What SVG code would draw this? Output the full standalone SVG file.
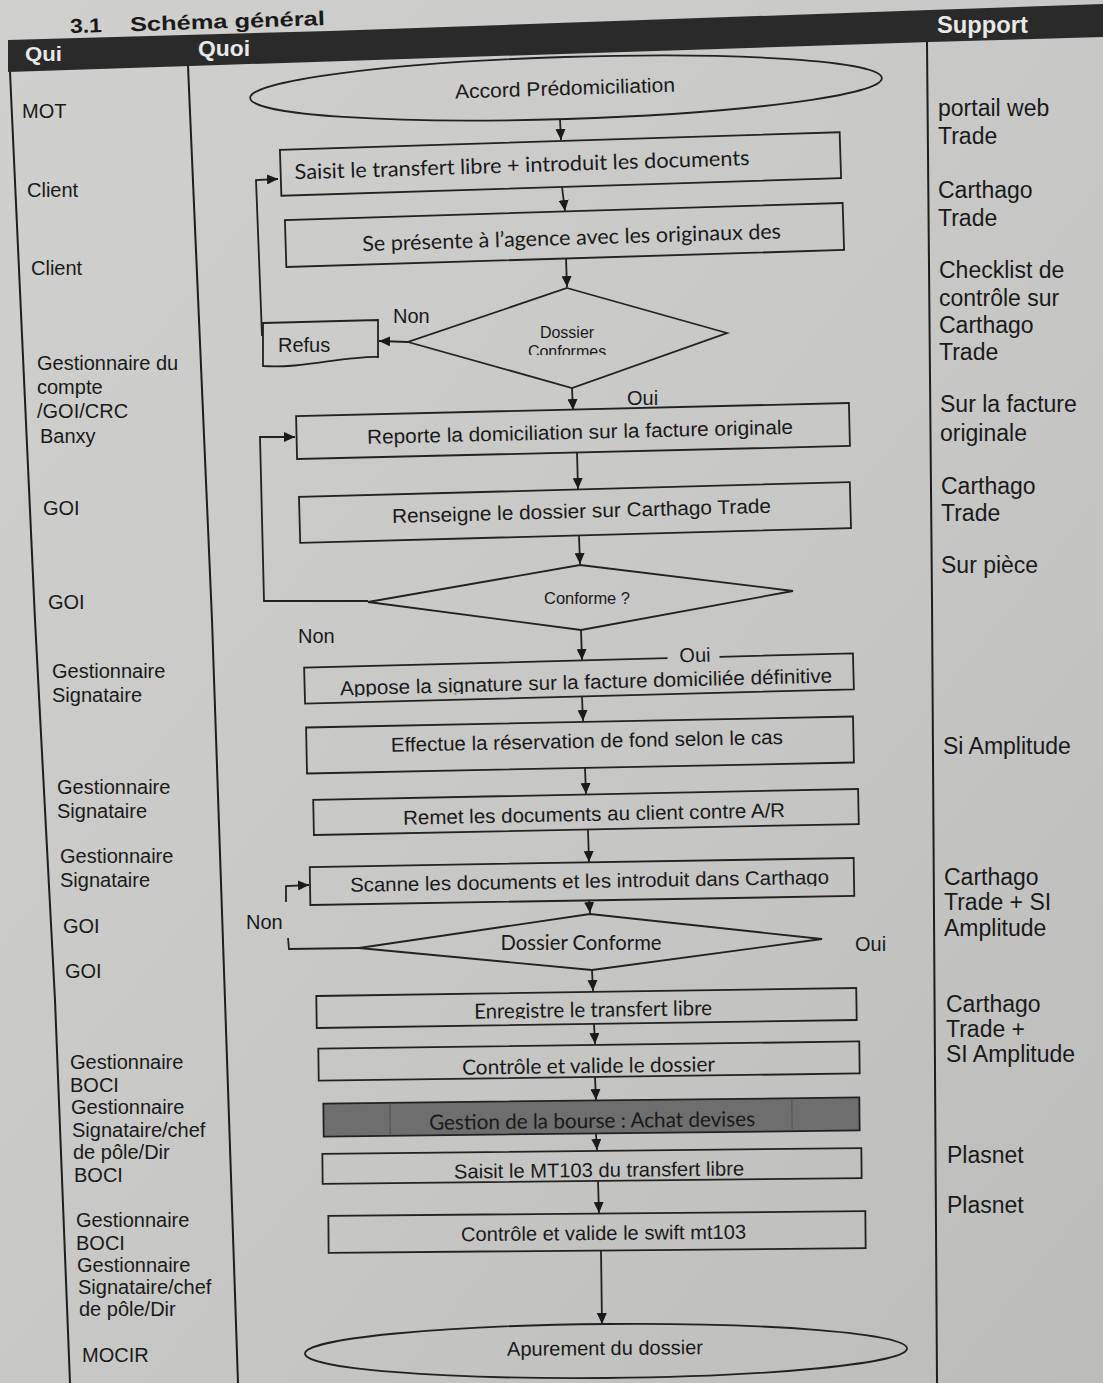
<svg xmlns="http://www.w3.org/2000/svg" width="1103" height="1383" viewBox="0 0 1103 1383">
<defs>
<linearGradient id="paper" x1="0" y1="0" x2="1" y2="1">
<stop offset="0" stop-color="#d0d0ce"/>
<stop offset="0.6" stop-color="#c6c6c4"/>
<stop offset="1" stop-color="#bcbcba"/>
</linearGradient>
<marker id="ah" markerUnits="userSpaceOnUse" markerWidth="11" markerHeight="10" refX="11" refY="5" orient="auto">
<path d="M0,0 L11,5 L0,10 z" fill="#1a1a1a"/>
</marker>
<clipPath id="clipD1"><rect x="400" y="280" width="340" height="75"/></clipPath>
<clipPath id="clipEnr"><rect x="316" y="992" width="540" height="26"/></clipPath>
<clipPath id="clipApp"><rect x="304" y="660" width="550" height="31"/></clipPath>
<clipPath id="clipScan"><rect x="310" y="862" width="544" height="28"/></clipPath>
<style>
.box{fill:none;stroke:#222;stroke-width:1.8}
.dark{fill:#6e6e6e;stroke:#222;stroke-width:1.8}
.ln{fill:none;stroke:#222;stroke-width:1.8}
.arr{fill:none;stroke:#222;stroke-width:1.8;marker-end:url(#ah)}
.col{fill:none;stroke:#1e1e1e;stroke-width:2}
.t{font-family:"Liberation Sans",Arial,sans-serif;font-size:20px;fill:#1a1a1a}
.c{font-family:Lato,"Liberation Sans",sans-serif;font-size:21px;fill:#1a1a1a}
.m{text-anchor:middle}
.s{font-family:"Liberation Sans",Arial,sans-serif;font-size:16px;fill:#1a1a1a;text-anchor:middle}
.q{font-family:"Liberation Sans",Arial,sans-serif;font-size:20px;fill:#1a1a1a}
.sp{font-family:"Liberation Sans",Arial,sans-serif;font-size:23px;fill:#1a1a1a}
.h{font-family:"Liberation Sans",Arial,sans-serif;font-weight:bold;fill:#e8e8e8}
</style>
</defs>
<rect width="1103" height="1383" fill="url(#paper)"/>

<g id="header">
<text class="t" x="70" y="29" font-size="24" font-weight="bold" textLength="32" lengthAdjust="spacingAndGlyphs" transform="rotate(-1.8 200 25)">3.1</text>
<text class="t" x="130" y="29" font-size="26" font-weight="bold" textLength="195" lengthAdjust="spacingAndGlyphs" transform="rotate(-1.8 200 25)">Schéma général</text>
<polygon points="8,40 330,31 930,10 1103,4 1103,37 930,42 190,66 8,72" fill="#2a2a2a"/>
<text class="h" x="25" y="61" font-size="21" textLength="37" lengthAdjust="spacingAndGlyphs">Qui</text>
<text class="h" x="198" y="56" font-size="22" textLength="52" lengthAdjust="spacingAndGlyphs">Quoi</text>
<text class="h" x="937" y="33" font-size="23" textLength="91" lengthAdjust="spacingAndGlyphs">Support</text>
</g>

<g id="columns">
<path class="col" d="M10,72 L35,620 L55,1000 L70,1383"/>
<path class="col" d="M188,66 L212,620 L225,1000 L238,1383"/>
<path class="col" d="M927,42 L932,600 L937,1383"/>
</g>

<g id="qui">
<text class="q" x="22" y="118">MOT</text>
<text class="q" x="27" y="197">Client</text>
<text class="q" x="31" y="275">Client</text>
<text class="q" x="37" y="370">Gestionnaire du</text>
<text class="q" x="37" y="394">compte</text>
<text class="q" x="37" y="418">/GOI/CRC</text>
<text class="q" x="40" y="443">Banxy</text>
<text class="q" x="43" y="515">GOI</text>
<text class="q" x="48" y="609">GOI</text>
<text class="q" x="52" y="678">Gestionnaire</text>
<text class="q" x="52" y="702">Signataire</text>
<text class="q" x="57" y="794">Gestionnaire</text>
<text class="q" x="57" y="818">Signataire</text>
<text class="q" x="60" y="863">Gestionnaire</text>
<text class="q" x="60" y="887">Signataire</text>
<text class="q" x="63" y="933">GOI</text>
<text class="q" x="65" y="978">GOI</text>
<text class="q" x="70" y="1069">Gestionnaire</text>
<text class="q" x="70" y="1092">BOCI</text>
<text class="q" x="71" y="1114">Gestionnaire</text>
<text class="q" x="72" y="1137">Signataire/chef</text>
<text class="q" x="73" y="1159">de pôle/Dir</text>
<text class="q" x="74" y="1182">BOCI</text>
<text class="q" x="76" y="1227">Gestionnaire</text>
<text class="q" x="76" y="1250">BOCI</text>
<text class="q" x="77" y="1272">Gestionnaire</text>
<text class="q" x="78" y="1294">Signataire/chef</text>
<text class="q" x="79" y="1316">de pôle/Dir</text>
<text class="q" x="82" y="1362">MOCIR</text>
</g>

<g id="support">
<text class="sp" x="938" y="116">portail web</text>
<text class="sp" x="938" y="144">Trade</text>
<text class="sp" x="938" y="198">Carthago</text>
<text class="sp" x="938" y="226">Trade</text>
<text class="sp" x="939" y="278">Checklist de</text>
<text class="sp" x="939" y="306">contrôle sur</text>
<text class="sp" x="939" y="333">Carthago</text>
<text class="sp" x="939" y="360">Trade</text>
<text class="sp" x="940" y="412">Sur la facture</text>
<text class="sp" x="940" y="441">originale</text>
<text class="sp" x="941" y="494">Carthago</text>
<text class="sp" x="941" y="521">Trade</text>
<text class="sp" x="941" y="573">Sur pièce</text>
<text class="sp" x="943" y="754">Si Amplitude</text>
<text class="sp" x="944" y="885">Carthago</text>
<text class="sp" x="944" y="910">Trade + SI</text>
<text class="sp" x="944" y="936">Amplitude</text>
<text class="sp" x="946" y="1012">Carthago</text>
<text class="sp" x="946" y="1037">Trade +</text>
<text class="sp" x="946" y="1062">SI Amplitude</text>
<text class="sp" x="947" y="1163">Plasnet</text>
<text class="sp" x="947" y="1213">Plasnet</text>
</g>

<g id="connectors">
<path class="arr" d="M560,119 L561,140"/>
<path class="arr" d="M562,187 L565,211"/>
<path class="arr" d="M566,258 L567,287"/>
<path class="arr" d="M408,342 L379,341"/>
<path class="arr" d="M262,336 L256,180 L278,179"/>
<path class="arr" d="M572,388 L573,410"/>
<path class="arr" d="M577,452 L578,489"/>
<path class="arr" d="M579,536 L580,564"/>
<path class="arr" d="M368,601 L264,601 L260,437 L295,437"/>
<path class="arr" d="M581,630 L582,660"/>
<path class="arr" d="M582,697 L583,721"/>
<path class="arr" d="M585,768 L586,794"/>
<path class="arr" d="M588,830 L589,862"/>
<path class="arr" d="M589,900 L590,913"/>
<path class="ln" d="M359,948 L289,949 L288,938"/>
<path class="arr" d="M286,902 L286,886 L309,885"/>
<path class="arr" d="M592,970 L593,991"/>
<path class="arr" d="M594,1024 L595,1044"/>
<path class="arr" d="M595,1077 L596,1100"/>
<path class="arr" d="M596,1134 L597,1150"/>
<path class="arr" d="M598,1181 L599,1213"/>
<path class="arr" d="M601,1250 L602,1324"/>
<text class="t" x="393" y="323" font-size="21">Non</text>
<text class="t" x="627" y="405" font-size="21">Oui</text>
<text class="t" x="298" y="643" font-size="21">Non</text>
<text class="t" x="246" y="929" font-size="21">Non</text>
<text class="t" x="855" y="951" font-size="21">Oui</text>
</g>

<g id="n-accord" transform="rotate(-1.8 566 88)">
<ellipse class="box" cx="566" cy="88" rx="316" ry="31"/>
<text class="t m" x="565" y="95" textLength="220" lengthAdjust="spacingAndGlyphs">Accord Prédomiciliation</text>
</g>

<g id="n-saisit" transform="rotate(-1.8 560.5 164)">
<rect class="box" x="280.5" y="141" width="560" height="46"/>
<text class="c m" x="522" y="171" textLength="455" lengthAdjust="spacingAndGlyphs">Saisit le transfert libre + introduit les documents</text>
</g>

<g id="n-presente" transform="rotate(-1.75 564.5 235)">
<rect class="box" x="285.5" y="211.5" width="558" height="47"/>
<text class="c m" x="571.5" y="245" textLength="419" lengthAdjust="spacingAndGlyphs">Se présente à l’agence avec les originaux des</text>
</g>

<g id="n-d1">
<polygon class="box" points="567,288 727,333 572,388 408,342"/>
<text class="s" x="567" y="338">Dossier</text>
<text class="s" x="567" y="357" clip-path="url(#clipD1)">Conformes</text>
</g>

<g id="n-refus">
<path class="box" d="M263,323 L378,320 L378,357 C345,356 300,369 263,366 Z"/>
<text class="t" x="278" y="352">Refus</text>
</g>

<g id="n-reporte" transform="rotate(-1.35 573 431)">
<rect class="box" x="296.5" y="409.5" width="553" height="43"/>
<text class="t m" x="580" y="439" textLength="426" lengthAdjust="spacingAndGlyphs">Reporte la domiciliation sur la facture originale</text>
</g>

<g id="n-renseigne" transform="rotate(-1.55 575 512.5)">
<rect class="box" x="299.5" y="489.5" width="551" height="46"/>
<text class="t m" x="581.5" y="518" textLength="379" lengthAdjust="spacingAndGlyphs">Renseigne le dossier sur Carthago Trade</text>
</g>

<g id="n-d2">
<polygon class="box" points="580,565 793,591 581,630 368,602"/>
<text class="s" x="587" y="604" textLength="86" lengthAdjust="spacingAndGlyphs">Conforme ?</text>
</g>

<g id="n-appose" transform="rotate(-1.5 579 678.5)">
<path class="box" d="M668,660.5 L304.5,660.5 L304.5,696.5 L853.5,696.5 L853.5,660.5 L720,660.5"/>
<text class="t" x="680" y="665" font-size="21">Oui</text>
<text class="t m" x="586" y="689" textLength="492" lengthAdjust="spacingAndGlyphs" clip-path="url(#clipApp)">Appose la signature sur la facture domiciliée définitive</text>
</g>

<g id="n-effectue" transform="rotate(-1.15 580 745)">
<rect class="box" x="306.5" y="722" width="547" height="46"/>
<text class="t m" x="587" y="748" textLength="392" lengthAdjust="spacingAndGlyphs">Effectue la réservation de fond selon le cas</text>
</g>

<g id="n-remet" transform="rotate(-1.15 586 812)">
<rect class="box" x="313.5" y="794.5" width="545" height="35"/>
<text class="t m" x="594" y="821" textLength="382" lengthAdjust="spacingAndGlyphs">Remet les documents au client contre A/R</text>
</g>

<g id="n-scanne" transform="rotate(-0.95 582 881.5)">
<rect class="box" x="310" y="862.5" width="544" height="38"/>
<text class="t m" x="589.5" y="888" textLength="479" lengthAdjust="spacingAndGlyphs" clip-path="url(#clipScan)">Scanne les documents et les introduit dans Carthago</text>
</g>

<g id="n-d3">
<polygon class="box" points="590,914 822,939 592,970 359,948"/>
<text class="c m" x="581" y="950" font-size="20" textLength="161" lengthAdjust="spacingAndGlyphs">Dossier Conforme</text>
</g>

<g id="n-enregistre" transform="rotate(-0.85 586.5 1008)">
<rect class="box" x="316.5" y="992" width="540" height="32"/>
<text class="c m" x="593" y="1017" font-size="20" textLength="238" lengthAdjust="spacingAndGlyphs" clip-path="url(#clipEnr)">Enregistre le transfert libre</text>
</g>

<g id="n-controle" transform="rotate(-0.75 589 1061)">
<rect class="box" x="318.5" y="1045" width="541" height="32"/>
<text class="c m" x="588.5" y="1073" font-size="20" textLength="253" lengthAdjust="spacingAndGlyphs">Contrôle et valide le dossier</text>
</g>

<g id="n-bourse" transform="rotate(-0.65 591.5 1117)">
<rect class="dark" x="323.5" y="1100.5" width="536" height="33"/>
<path d="M390,1101 L390,1133 M792,1101 L792,1133" stroke="#555" stroke-width="1.2"/>
<text class="c m" x="592" y="1128" font-size="20" textLength="326" lengthAdjust="spacingAndGlyphs">Gestion de la bourse : Achat devises</text>
</g>

<g id="n-mt103" transform="rotate(-0.6 592 1166)">
<rect class="box" x="322.5" y="1151" width="539" height="30"/>
<text class="t m" x="599" y="1177" font-size="19" textLength="290" lengthAdjust="spacingAndGlyphs">Saisit le MT103 du transfert libre</text>
</g>

<g id="n-swift" transform="rotate(-0.5 597 1232)">
<rect class="box" x="328.5" y="1213.5" width="537" height="37"/>
<text class="t m" x="603.5" y="1240" textLength="285" lengthAdjust="spacingAndGlyphs">Contrôle et valide le swift mt103</text>
</g>

<g id="n-apurement" transform="rotate(-0.5 606 1351)">
<ellipse class="box" cx="606" cy="1351" rx="301" ry="27"/>
<text class="t m" x="605" y="1355" textLength="196" lengthAdjust="spacingAndGlyphs">Apurement du dossier</text>
</g>
</svg>
